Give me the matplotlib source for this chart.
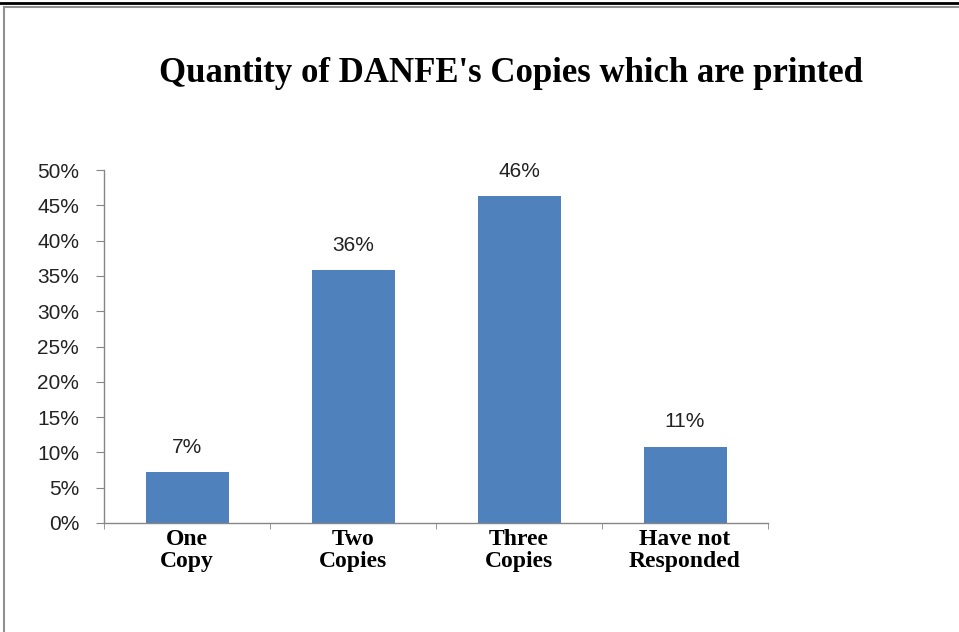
import matplotlib
matplotlib.use("Agg")
import matplotlib.pyplot as plt
from matplotlib.lines import Line2D
import numpy as np

categories = ["One\nCopy", "Two\nCopies", "Three\nCopies", "Have not\nResponded"]
shares = [7.2, 35.8, 46.3, 10.8]  # percent
yticks = [0, 5, 10, 15, 20, 25, 30, 35, 40, 45, 50]

bar_color = "#4F81BD"
axis_grey = "#868686"
sans = ["Liberation Sans", "DejaVu Sans"]
serif = ["Liberation Serif", "DejaVu Serif"]

fig = plt.figure(figsize=(9.59, 6.32), dpi=100)
ax = fig.add_axes([104 / 959, 1 - 523 / 632, 664 / 959, 353 / 632])

x = np.arange(len(categories))
bars = ax.bar(x, shares, width=0.5, color=bar_color)

for b, v in zip(bars, shares):
    ax.annotate("{:.0f}%".format(v), (b.get_x() + b.get_width() / 2, v),
                xytext=(0, 11), textcoords="offset points",
                ha="center", va="bottom", fontsize=15, family=sans, color="#222222")

ax.set_xlim(-0.5, len(categories) - 0.5)
ax.set_ylim(0, 50)
ax.set_yticks(yticks)
ax.set_yticklabels(["{}%".format(t) for t in yticks], family=sans, fontsize=15, color="#222222")

ax.set_xticks(x)
ax.set_xticklabels(categories, family=serif, fontsize=17, fontweight="bold", linespacing=1.1)
ax.set_xticks(np.arange(-0.5, len(categories)), minor=True)
ax.tick_params(axis="x", which="major", length=0, pad=4)
ax.tick_params(axis="x", which="minor", length=4, color=axis_grey, direction="out")
ax.tick_params(axis="y", length=6, color=axis_grey, direction="out", pad=12)

for side in ["top", "right"]:
    ax.spines[side].set_visible(False)
for side in ["left", "bottom"]:
    ax.spines[side].set_color(axis_grey)
    ax.spines[side].set_linewidth(1)

fig.text(511 / 959, 1 - 73 / 632, "Quantity of DANFE's Copies which are printed",
         ha="center", va="center", family=serif, fontsize=25, fontweight="bold")

# frame lines around the chart
fig.add_artist(Line2D([0, 1], [1 - 3 / 632] * 2, color="black", linewidth=2))
fig.add_artist(Line2D([4 / 959, 1], [1 - 7 / 632] * 2, color="#909090", linewidth=1.5))
fig.add_artist(Line2D([4 / 959] * 2, [0, 1 - 7 / 632], color="#909090", linewidth=1.5))

fig.savefig("out.png", dpi=100)
